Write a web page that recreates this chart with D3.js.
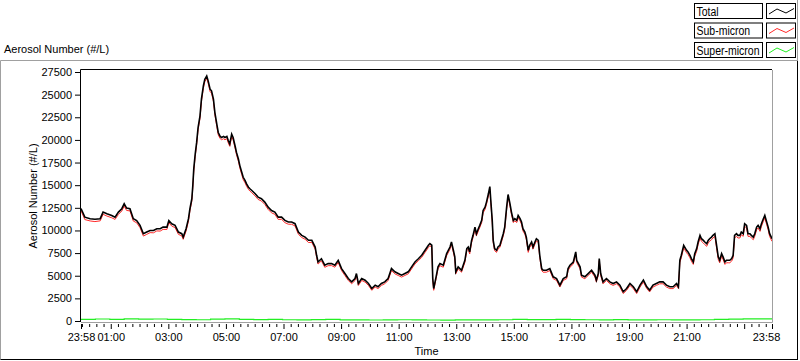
<!DOCTYPE html>
<html><head><meta charset="utf-8">
<script src="https://cdn.jsdelivr.net/npm/d3@7"></script>
<style>
html,body{margin:0;padding:0;background:#fff;}
svg{display:block;font-family:"Liberation Sans",Arial,sans-serif;font-size:11px;}
.legend text{font-family:"Liberation Sans",Arial,sans-serif;font-size:12.5px;}
</style></head>
<body>
<svg id="chart" width="800" height="361"></svg>
<script>
// ---- data (minutes elapsed since 23:58) ----
const minutes = [
0,8,19,29,40,46,54,64,71,78,
85,90,95,102,109,116,123,130,137,144,
151,158,165,171,179,183,189,196,203,210,
213,219,224,227,231,233,235,238,241,244,
248,251,255,258,262,265,269,272,276,279,
283,286,290,293,297,300,304,307,310,314,
317,321,324,328,331,335,338,342,345,349,
352,356,363,369,376,383,390,397,404,411,
418,425,432,439,446,453,460,467,474,481,
488,491,494,501,508,515,522,529,536,543,
550,557,564,571,574,578,585,592,599,606,
613,619,626,633,640,647,654,661,668,675,
682,689,696,703,710,717,724,727,731,733,
735,740,744,748,755,762,769,772,776,779,
781,786,793,800,804,807,810,814,817,821,
824,828,831,835,838,842,845,849,852,854,
857,859,862,866,869,873,876,880,883,887,
890,894,897,901,904,908,911,915,918,921,
925,928,932,935,939,942,946,949,953,956,
960,963,970,977,984,991,998,1005,1012,1015,
1019,1026,1031,1033,1040,1043,1050,1057,1064,1071,
1074,1078,1080,1083,1088,1095,1102,1109,1116,1123,
1130,1137,1144,1151,1158,1165,1172,1179,1185,1192,
1199,1206,1213,1220,1227,1234,1241,1245,1248,1251,
1256,1262,1265,1269,1272,1276,1279,1283,1286,1290,
1293,1297,1300,1304,1307,1310,1314,1317,1321,1324,
1328,1331,1335,1338,1342,1345,1349,1352,1356,1359,
1362,1366,1369,1373,1376,1380,1383,1387,1390,1394,
1397,1401,1404,1408,1411,1415,1418,1422,1425,1429,
1432,1435,1440];

const totalValues = [
12430,11470,11300,11230,11300,12030,11850,11660,11470,12030,
12400,12940,12470,12400,11300,11100,10560,9640,9820,10000,
10000,10190,10190,10370,10370,11100,10740,10560,9820,9640,
9270,10190,11300,12400,13500,14960,16800,18440,19720,21370,
22660,24500,25960,26700,27060,26520,25600,25420,24500,23020,
21740,20820,20390,20270,20390,20270,20390,19900,19550,20640,
20270,19360,18620,17890,17160,16420,15870,15500,15140,14780,
14600,14410,14050,13680,13500,13130,12570,12200,12030,11470,
11470,11110,10930,10930,10750,9820,9460,9270,8910,8910,
8170,7260,6520,6880,6160,6340,6340,6160,6700,5790,
5240,4690,4320,4690,5240,4140,4690,4510,4140,3590,
3960,3780,4140,4320,4690,5790,5430,5240,5060,5240,
5430,5980,6520,6880,7260,7810,8360,8550,8370,4690,
3590,4880,5980,6340,6160,7440,8170,8730,7810,7080,
5430,5980,5610,6700,8000,8170,7630,8910,9460,10370,
9640,10190,10560,11110,12210,12570,13130,14050,14850,13310,
11110,8910,8000,7810,8170,8370,8910,9640,10370,12570,
13970,12940,12030,11110,11300,11110,11660,11300,10930,10190,
9820,9270,7810,8370,8730,8170,8730,9090,8910,7260,
5790,5610,5610,5790,4880,4690,3960,4690,4880,5790,
6160,6520,7630,6700,5980,5060,4880,5240,5610,5060,
4510,5240,6900,5240,4320,4690,4320,4140,4320,3960,
3230,3590,4140,3780,3230,3960,4510,3780,3410,3960,
4140,4320,4320,3960,3780,3780,4140,3780,6710,7260,
8360,7810,7630,7260,6900,6520,7440,7990,8720,9460,
9090,8900,8720,8540,8900,9090,9270,9460,9640,8540,
7080,6710,7440,7080,6520,6710,6710,6710,6900,7260,
9460,9640,9460,9460,9820,9640,10740,10560,9640,9640,
9460,9270,9640,10370,10560,10190,10740,11300,11660,10920,
10370,9640,9090];

const subMicronValues = [
12180,11200,11050,10980,11060,11780,11590,11400,11220,11770,
12150,12680,12210,12160,11040,10850,10310,9380,9570,9760,
9740,9950,9930,10120,10110,10860,10490,10310,9570,9400,
9020,9940,11050,12160,13250,14710,16550,18190,19470,21120,
22400,24240,25700,26430,26790,26260,25340,25160,24240,22770,
21490,20570,20140,20020,20130,20010,20140,19650,19290,20380,
20020,19110,18370,17640,16910,16170,15620,15250,14890,14530,
14350,14160,13800,13430,13250,12880,12320,11950,11780,11220,
11230,10860,10690,10680,10500,9580,9220,9030,8670,8680,
7930,7030,6290,6650,5930,6110,6120,5940,6470,5570,
5020,4480,4110,4470,5020,3930,4480,4300,3930,3390,
3750,3580,3930,4110,4480,5570,5210,5030,4850,5030,
5210,5760,6300,6650,7030,7580,8120,8310,8130,4480,
3390,4670,5760,6110,5940,7210,7940,8490,7580,6850,
5210,5760,5390,6470,7770,7940,7400,8670,9220,10130,
9400,9950,10320,10870,11960,12320,12880,13800,14600,13060,
10870,8670,7770,7580,7940,8130,8670,9400,10130,12320,
13720,12690,11780,10870,11060,10870,11410,11060,10690,9950,
9580,9030,7580,8130,8490,7940,8490,8850,8670,7030,
5570,5390,5390,5570,4670,4480,3750,4480,4670,5570,
5940,6290,7400,6470,5760,4850,4670,5030,5390,4850,
4300,5030,6660,5030,4110,4480,4110,3930,4110,3750,
3030,3390,3930,3580,3030,3750,4300,3580,3210,3750,
3930,4110,4110,3750,3580,3580,3930,3580,6440,6990,
8080,7530,7350,6980,6620,6250,7160,7700,8430,9170,
8800,8610,8430,8250,8610,8800,8980,9170,9350,8250,
6800,6430,7160,6800,6250,6430,6430,6430,6620,6980,
9170,9350,9170,9170,9530,9350,10450,10270,9350,9350,
9170,8980,9350,10080,10270,9900,10450,11010,11370,10630,
10080,9350,8800];

// super-micron, every 30 minutes from 23:58
const superMinutes = [0,30,60,90,120,150,180,210,240,270,300,330,360,390,420,450,480,510,540,570,600,630,660,690,720,750,780,810,840,870,900,930,960,990,1020,1050,1080,1110,1140,1170,1200,1230,1260,1290,1320,1350,1380,1410,1440];
const superMicronValues = [190,220,170,230,200,220,170,150,140,210,230,190,150,170,140,120,160,170,130,120,110,130,140,120,110,100,120,130,120,140,170,150,160,180,150,140,130,150,120,130,140,130,120,140,190,210,230,240,220];

const yTicks = [0,2500,5000,7500,10000,12500,15000,17500,20000,22500,25000,27500];
const legendLabels = ["Total","Sub-micron","Super-micron"];
const seriesColors = ["#000000","#ff2a2a","#22ee22"];
const titleText = "Aerosol Number (#/L)";
const xTitle = "Time";
const startClock = 23*60+58;

// ---- drawing ----
const svg = d3.select("#chart");
const x = d3.scaleLinear().domain([0,1440]).range([81,772]);
const y = d3.scaleLinear().domain([0,27500]).range([321,72]);

// outer frame
svg.append("line").attr("x1",0.5).attr("y1",60.5).attr("x2",797.5).attr("y2",60.5).attr("stroke","#a0a0a0");
svg.append("line").attr("x1",0.5).attr("y1",60.5).attr("x2",0.5).attr("y2",359.5).attr("stroke","#a0a0a0");
svg.append("line").attr("x1",0.5).attr("y1",359.5).attr("x2",798).attr("y2",359.5).attr("stroke","#000");
svg.append("line").attr("x1",797.5).attr("y1",60.5).attr("x2",797.5).attr("y2",360).attr("stroke","#000");

// title
svg.append("text").attr("x",4).attr("y",53).text(titleText);

// legend
const lg = svg.append("g").attr("class","legend");
lg.append("line").attr("x1",797.5).attr("y1",0).attr("x2",797.5).attr("y2",61).attr("stroke","#a0a0a0");
legendLabels.forEach((lab,i)=>{
  const t = 3.5 + i*19.5;
  lg.append("rect").attr("x",694.5).attr("y",t).attr("width",68).attr("height",15).attr("fill","#fff").attr("stroke","#000");
  lg.append("rect").attr("x",766.5).attr("y",t).attr("width",29).attr("height",15).attr("fill","#fff").attr("stroke","#000");
  const tx = lg.append("text").attr("x",696.5).attr("y",t+12).text(lab);
  const natural = tx.node().getComputedTextLength();
  tx.attr("textLength", natural*0.84).attr("lengthAdjust","spacingAndGlyphs");
  lg.append("polyline").attr("points",[[769,t+10.5],[777,t+5.5],[786,t+9.5],[794,t+5]].map(p=>p.join(",")).join(" "))
    .attr("fill","none").attr("stroke",seriesColors[i]).attr("stroke-width",1);
});

// plot area borders
svg.append("path").attr("d","M80.5,322V69.5H772").attr("fill","none").attr("stroke","#000");
svg.append("path").attr("d","M81,322.5H772.5V70").attr("fill","none").attr("stroke","#a0a0a0");

// y axis
const yAxis = d3.axisLeft(y).tickValues(yTicks).tickSize(5).tickPadding(3).tickFormat(d3.format("d"));
const gy = svg.append("g").attr("transform","translate(80,0)").call(yAxis);
gy.select(".domain").remove();
gy.selectAll("text").attr("font-family","Liberation Sans, Arial, sans-serif").attr("font-size",11).attr("fill","#000");
gy.selectAll("line").attr("stroke","#000");

// x axis ticks
function clock(m){ const t=(startClock+m)%1440; return String(Math.floor(t/60)).padStart(2,"0")+":"+String(t%60).padStart(2,"0"); }
const majorTicks = [0].concat(d3.range(62,1440,120)).concat([1440]);
const minorTicks = d3.range(2,1440,15).filter(v=>!majorTicks.includes(v));
const gxMinor = svg.append("g").attr("transform","translate(0,324)")
  .call(d3.axisBottom(x).tickValues(minorTicks).tickSize(3).tickFormat(""));
gxMinor.select(".domain").remove();
const gxMajor = svg.append("g").attr("transform","translate(0,324)")
  .call(d3.axisBottom(x).tickValues(majorTicks).tickSize(5).tickPadding(4).tickFormat(d=> d===1382 ? "" : clock(d)));
gxMajor.select(".domain").remove();
gxMajor.selectAll("text").attr("font-family","Liberation Sans, Arial, sans-serif").attr("font-size",11).attr("fill","#000")
  .attr("dx",d=> d===1440 ? -6 : 0);
svg.selectAll(".tick line").attr("stroke","#000");

// axis titles
svg.append("text").attr("x",426.5).attr("y",355).attr("text-anchor","middle").text(xTitle);
svg.append("text").attr("transform","translate(37,196) rotate(-90)").attr("text-anchor","middle").text(titleText);

// series
svg.append("clipPath").attr("id","clip").append("rect").attr("x",81).attr("y",70).attr("width",691).attr("height",252);
const plot = svg.append("g").attr("clip-path","url(#clip)");
const stepLine = d3.line().x(d=>x(d[0])).y(d=>y(d[1])).curve(d3.curveStepAfter);
const line = d3.line().x(d=>x(d[0])).y(d=>y(d[1]));
const superData = d3.zip(superMinutes, superMicronValues);
const subData = d3.zip(minutes, subMicronValues);
const totData = d3.zip(minutes, totalValues);
plot.append("path").datum(superData).attr("d",stepLine).attr("fill","none").attr("stroke",seriesColors[2]).attr("stroke-width",1.2);
plot.append("path").datum(subData).attr("d",line).attr("fill","none").attr("stroke",seriesColors[1]).attr("stroke-width",1);
plot.append("path").datum(totData).attr("d",line).attr("fill","none").attr("stroke",seriesColors[0]).attr("stroke-width",1.6);
</script>
</body></html>
